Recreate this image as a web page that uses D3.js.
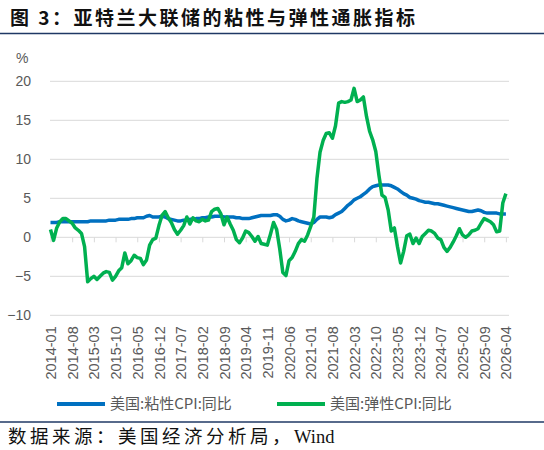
<!DOCTYPE html>
<html>
<head>
<meta charset="utf-8">
<script src="https://cdn.jsdelivr.net/npm/d3@7"></script>
<style>
  body { margin: 0; background: #fff; }
  svg { display: block; }
</style>
</head>
<body>
<div id="chart"></div>
<script>
// month index 0 = 2014-01, last = 2026-04
var startYear = 2014;
var tickMonths = [0, 7, 14, 21, 28, 35, 42, 49, 56, 63, 70, 77, 84, 91, 98, 105, 112, 119, 126, 133, 140, 147];
var yTicks = [-10, -5, 0, 5, 10, 15, 20];
var seriesNames = ["美国:粘性CPI:同比", "美国:弹性CPI:同比"];
var seriesColors = ["#0070c0", "#00b050"];

// 美国:粘性CPI:同比, monthly
var sticky = [
  1.9, 1.9, 1.9, 2.0, 2.0, 2.0, 2.0, 2.0, 2.0, 2.0, 2.0, 2.0,
  2.0, 2.1, 2.1, 2.1, 2.1, 2.1, 2.1, 2.2, 2.2, 2.2, 2.3, 2.3,
  2.3, 2.3, 2.4, 2.4, 2.5, 2.5, 2.5, 2.7, 2.8, 2.6, 2.6, 2.6,
  2.7, 2.6, 2.4, 2.3, 2.2, 2.1, 2.1, 2.2, 2.2, 2.3, 2.3, 2.4,
  2.4, 2.5, 2.5, 2.6, 2.6, 2.7, 2.7, 2.7, 2.6, 2.6, 2.6, 2.6,
  2.5, 2.5, 2.4, 2.4, 2.4, 2.5, 2.6, 2.7, 2.8, 2.8, 2.8, 2.8,
  2.9, 2.9, 2.7, 2.3, 2.1, 2.2, 2.4, 2.3, 2.1, 2.0, 1.9, 1.8,
  1.7, 1.9, 2.3, 2.6, 2.6, 2.6, 2.5, 2.6, 2.9, 3.1, 3.3, 3.7,
  4.1, 4.4, 4.8, 5.0, 5.2, 5.5, 5.8, 6.2, 6.5, 6.6, 6.7, 6.7,
  6.7, 6.7, 6.6, 6.4, 6.2, 5.9, 5.6, 5.4, 5.1, 5.0, 4.9, 4.7,
  4.6, 4.5, 4.5, 4.4, 4.3, 4.3, 4.2, 4.1, 4.0, 3.9, 3.8, 3.7,
  3.6, 3.5, 3.4, 3.3, 3.3, 3.4, 3.5, 3.4, 3.2, 3.1, 3.1, 3.1,
  3.1, 3.0, 3.0, 3.0
];

// 美国:弹性CPI:同比, monthly
var flexible = [
  1.0, -0.4, 1.2, 2.0, 2.4, 2.4, 2.1, 1.8, 1.2, 0.9, 0.5, -1.2,
  -5.7, -5.3, -5.0, -5.4, -5.0, -4.6, -4.4, -4.5, -5.5, -5.0, -4.3, -3.9,
  -2.0, -3.4, -3.0, -2.3, -2.6, -2.7, -3.5, -2.9, -1.0, -0.3, -0.1, 1.5,
  2.8, 3.3, 2.5, 1.9, 1.0, 0.4, 0.9, 1.5, 2.6, 1.7, 2.5, 2.1,
  2.0, 2.3, 2.1, 2.2, 3.3, 3.6, 3.7, 3.0, 1.6, 2.6, 1.7, 0.9,
  -0.3, -0.7, -0.1, 0.8, 0.6, 0.1, -0.5, 0.1, -0.8, -0.9, -1.0, 0.4,
  1.9, 1.0, -1.5, -4.5, -4.9, -3.0, -2.6, -1.8, -0.8, -0.3, -0.5, 0.3,
  1.4, 2.6, 7.5, 10.9, 12.4, 13.3, 13.4, 12.7, 14.3, 17.2, 17.4, 17.3,
  17.4, 17.6, 19.1, 17.4, 17.6, 18.0, 15.5, 13.6, 12.5, 11.0, 8.0, 5.4,
  5.1, 3.5, 0.8, 1.2, -1.2, -3.3, -1.8, 0.2, 0.4, -0.8, -0.1, -0.8,
  0.1, 0.5, 0.9, 0.8, 0.5, -0.1, -0.3, -1.3, -1.8, -1.3, -0.6, 0.2,
  1.1, 0.3, 0.0, 0.3, 0.8, 0.9, 1.1, 1.8, 2.4, 2.2, 2.0, 1.6,
  0.7, 0.8, 4.4, 5.6
];

var W = 544, H = 450;

var svg = d3.select("#chart").append("svg")
    .attr("width", W)
    .attr("height", H);

var x = d3.scaleLinear()
    .domain([0, 148])
    .range([50.5, 509]);

var y = d3.scaleLinear()
    .domain([-10, 20])
    .range([315.3, 81.3]);

function monthLabel(m) {
  var yr = startYear + Math.floor(m / 12);
  var mo = (m % 12) + 1;
  return yr + "-" + (mo < 10 ? "0" + mo : mo);
}

// title
svg.append("text")
    .attr("x", 10)
    .attr("y", 25)
    .style("font-family", "'Noto Sans CJK SC', sans-serif")
    .style("font-weight", "bold")
    .style("font-size", "19px")
    .style("letter-spacing", "2.5px")
    .attr("fill", "#111")
    .text("图 3：亚特兰大联储的粘性与弹性通胀指标");

svg.append("line")
    .attr("x1", 0).attr("x2", W)
    .attr("y1", 33.5).attr("y2", 33.5)
    .attr("stroke", "#1f3864")
    .attr("stroke-width", 1.5);

// unit
svg.append("text")
    .attr("x", 16)
    .attr("y", 63)
    .style("font-family", "'Liberation Sans', Arial, sans-serif")
    .style("font-size", "14px")
    .attr("fill", "#595959")
    .text("%");

// gridlines
svg.append("g")
  .selectAll("line")
  .data(yTicks.filter(function(d) { return d !== 0; }))
  .enter().append("line")
    .attr("x1", x.range()[0] - 0.5)
    .attr("x2", x.range()[1])
    .attr("y1", function(d) { return y(d); })
    .attr("y2", function(d) { return y(d); })
    .attr("stroke", "#d9d9d9")
    .attr("stroke-width", 1);

// y axis labels
var yAxis = svg.append("g")
    .attr("transform", "translate(" + (x.range()[0] - 0.5) + ",0)")
    .call(d3.axisLeft(y).tickValues(yTicks).tickSize(0).tickPadding(19));
yAxis.select(".domain").remove();
yAxis.selectAll("text")
    .style("font-family", "'Liberation Sans', Arial, sans-serif")
    .style("font-size", "14px")
    .attr("fill", "#595959");

// zero axis with ticks
var zeroAxis = svg.append("g")
    .attr("transform", "translate(0," + y(0) + ")")
    .call(d3.axisBottom(x).tickValues(tickMonths).tickSize(5).tickFormat(""));
zeroAxis.select(".domain")
    .attr("d", "M" + (x.range()[0] - 0.5) + ",0H" + x.range()[1])
    .attr("stroke", "#d9d9d9");
zeroAxis.selectAll(".tick line").attr("stroke", "#d9d9d9");

// date labels, low position
var xAxis = svg.append("g")
    .attr("transform", "translate(0," + (y(-10) + 11) + ")")
    .call(d3.axisBottom(x).tickValues(tickMonths).tickSize(0).tickFormat(monthLabel));
xAxis.select(".domain").remove();
xAxis.selectAll("text")
    .attr("transform", "rotate(-90)")
    .attr("x", 0)
    .attr("y", 0)
    .attr("dy", "0.35em")
    .style("text-anchor", "end")
    .style("font-family", "'Liberation Sans', Arial, sans-serif")
    .style("font-size", "14.5px")
    .attr("fill", "#595959");

// lines
var line = d3.line()
    .x(function(d, i) { return x(i); })
    .y(function(d) { return y(d); });

svg.append("path")
    .datum(sticky)
    .attr("fill", "none")
    .attr("stroke", seriesColors[0])
    .attr("stroke-width", 3.5)
    .attr("stroke-linejoin", "round")
    .attr("d", line);

svg.append("path")
    .datum(flexible)
    .attr("fill", "none")
    .attr("stroke", seriesColors[1])
    .attr("stroke-width", 3.5)
    .attr("stroke-linejoin", "round")
    .attr("d", line);

// legend
var legend = svg.append("g")
  .selectAll("g")
  .data(seriesNames)
  .enter().append("g")
    .attr("transform", function(d, i) { return "translate(" + (57 + i * 220) + ",404)"; });

legend.append("line")
    .attr("x1", 0).attr("x2", 48)
    .attr("stroke", function(d, i) { return seriesColors[i]; })
    .attr("stroke-width", 4);

legend.append("text")
    .attr("x", 53)
    .attr("y", 5)
    .style("font-family", "'Noto Sans CJK SC', sans-serif")
    .style("font-size", "15px")
    .attr("fill", "#595959")
    .text(function(d) { return d; });

svg.append("line")
    .attr("x1", 0).attr("x2", W)
    .attr("y1", 422).attr("y2", 422)
    .attr("stroke", "#1f3864")
    .attr("stroke-width", 1.5);

// source
var src = svg.append("text")
    .attr("x", 8)
    .attr("y", 443)
    .attr("fill", "#111")
    .style("font-size", "18.5px");
src.append("tspan")
    .style("font-family", "'Noto Sans CJK SC', sans-serif")
    .style("letter-spacing", "3.5px")
    .text("数据来源：美国经济分析局，");
src.append("tspan")
    .style("font-family", "'Liberation Serif', serif")
    .text("Wind");
</script>
</body>
</html>
